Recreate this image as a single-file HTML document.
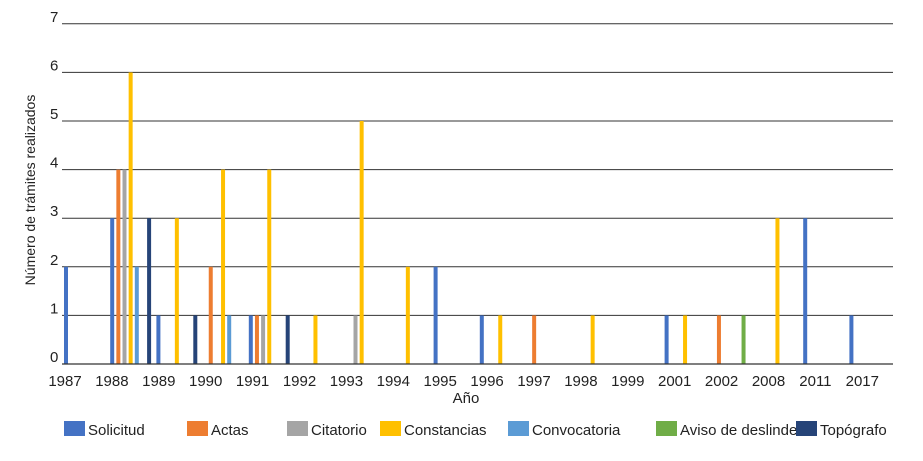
<!DOCTYPE html>
<html><head><meta charset="utf-8"><style>
body{margin:0;background:#fff;width:923px;height:456px;overflow:hidden;font-family:"Liberation Sans",sans-serif}
svg text{font-family:"Liberation Sans",sans-serif;fill:#222}
</style></head><body>
<svg id="chart" width="923" height="456" viewBox="0 0 923 456"></svg>
<script>
const categories=["1987","1988","1989","1990","1991","1992","1993","1994","1995","1996","1997","1998","1999","2001","2002","2008","2011","2017"];
const seriesNames=["Solicitud","Actas","Citatorio","Constancias","Convocatoria","Aviso de deslinde","Topógrafo"];
const seriesColors=["#4472C4","#ED7D31","#A5A5A5","#FFC000","#5B9BD5","#70AD47","#264478"];
const solicitud=[2,3,1,0,1,0,0,0,2,1,0,0,0,1,0,0,3,1];
const actas=[0,4,0,2,1,0,0,0,0,0,1,0,0,0,1,0,0,0];
const citatorio=[0,4,0,0,1,0,1,0,0,0,0,0,0,0,0,0,0,0];
const constancias=[0,6,3,4,4,1,5,2,0,1,0,1,0,1,0,3,0,0];
const convocatoria=[0,2,0,1,0,0,0,0,0,0,0,0,0,0,0,0,0,0];
const aviso=[0,0,0,0,0,0,0,0,0,0,0,0,0,0,1,0,0,0];
const topografo=[0,3,1,0,1,0,0,0,0,0,0,0,0,0,0,0,0,0];
const yTicks=[0,1,2,3,4,5,6,7];
const series=[solicitud,actas,citatorio,constancias,convocatoria,aviso,topografo];
const NS="http://www.w3.org/2000/svg";
const svg=document.getElementById('chart');
function mk(t,a,p){const e=document.createElementNS(NS,t);for(const k in a)e.setAttribute(k,a[k]);(p||svg).appendChild(e);return e;}
const x0=62,x1=893,yBase=364,yStep=48.6;
function y(v){return yBase-v*yStep;}
function groupX(i){return 64+i*46.2;}
function labelX(i){return 65+i*46.9;}
yTicks.forEach(v=>{
  const l=mk('line',{x1:x0,x2:x1,y1:y(v),y2:y(v),stroke:'#333','stroke-width':1});
  
  
  const t=mk('text',{x:50,y:y(v)-2,'font-size':15});
  t.textContent=v;
  
  
});
series.forEach((vals,s)=>{
  vals.forEach((v,i)=>{
    if(!v)return;
    const r=mk('rect',{x:groupX(i)+s*6.15,y:y(v),width:4,height:v*yStep,fill:seriesColors[s]});
    
    
  });
});
mk('line',{x1:x0,x2:x1,y1:yBase,y2:yBase,stroke:'#333','stroke-width':1.2});
categories.forEach((c,i)=>{
  const t=mk('text',{x:labelX(i),y:386,'font-size':15,'text-anchor':'middle'});
  t.textContent=c;
  
  
});
const xt=mk('text',{x:466,y:403,'font-size':15,'text-anchor':'middle'});xt.textContent='Año';


const yt=mk('text',{x:0,y:0,'font-size':14,'text-anchor':'middle',transform:'translate(35,190) rotate(-90)'});yt.textContent='Número de trámites realizados';


const legX=[64,187,287,380,508,656,796];
seriesNames.forEach((n,s)=>{
  const g=mk('g',{});
  
  
  mk('rect',{x:legX[s],y:421,width:21,height:15,fill:seriesColors[s]},g);
  const t=mk('text',{x:legX[s]+24,y:435,'font-size':15},g);t.textContent=n;
});
</script>
</body></html>
